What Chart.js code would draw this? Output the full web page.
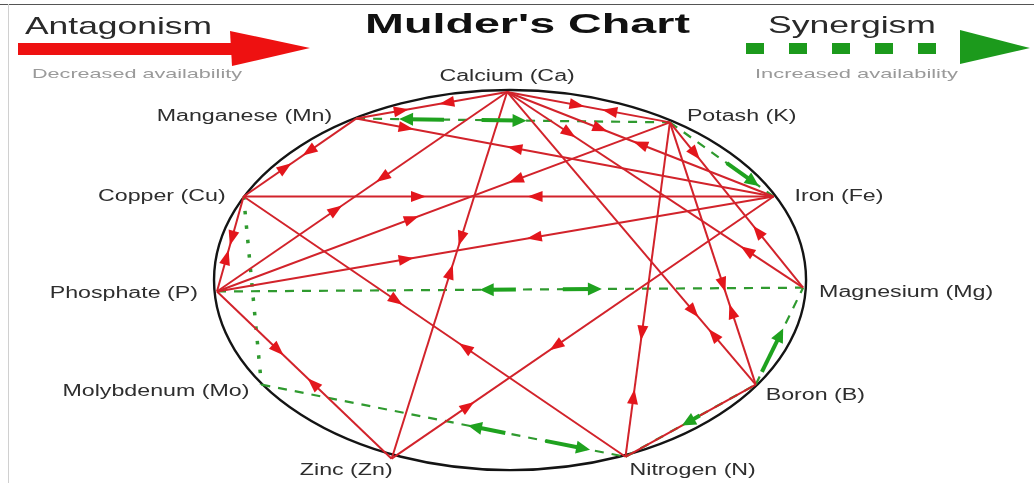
<!DOCTYPE html>
<html><head><meta charset="utf-8">
<script src="https://cdn.jsdelivr.net/npm/chart.js@4/dist/chart.umd.min.js"></script>
<style>
html,body{margin:0;padding:0;background:#fff;}
#wrap{position:relative;width:1034px;height:483px;overflow:hidden;background:#fff;}
#c{position:absolute;left:0;top:0;width:1034px;height:483px;}
#hdr{position:absolute;left:0;top:0;width:1034px;height:483px;}
.t{position:absolute;white-space:nowrap;transform-origin:0 0;line-height:1;font-family:"Liberation Sans",Arial,sans-serif;}
</style></head>
<body><div id="wrap">
<canvas id="c" width="1034" height="483"></canvas>
<svg id="hdr" width="1034" height="483">
  <line x1="0" y1="4.5" x2="1034" y2="4.5" stroke="#555" stroke-width="1"/>
  <line x1="8.5" y1="4" x2="8.5" y2="483" stroke="#d0d0d0" stroke-width="1"/>
  <rect x="18" y="43" width="215" height="12" fill="#ee1111"/>
  <polygon points="230,31 310,48 232,66" fill="#ee1111"/>
  <g fill="#1c9a1c">
    <rect x="746" y="43" width="18" height="11"/>
    <rect x="789" y="43" width="18" height="11"/>
    <rect x="832" y="43" width="18" height="11"/>
    <rect x="875" y="43" width="18" height="11"/>
    <rect x="918" y="43" width="18" height="11"/>
    <polygon points="960,30 1030,48 960,64"/>
  </g>
</svg>
</div>
<script>
// ---------- data ----------
const elements = ['Calcium (Ca)','Potash (K)','Iron (Fe)','Magnesium (Mg)','Boron (B)','Nitrogen (N)','Zinc (Zn)','Molybdenum (Mo)','Phosphate (P)','Copper (Cu)','Manganese (Mn)'];
const nodeX = [-1, 54, 89, 99, 83, 39, -40, -84, -99, -90, -52];
const nodeY = [99, 83, 44, -4, -55, -93, -94, -55, -6, 44, 85];
// antagonism (red) links: index pairs
const antagonismFrom = [0, 0, 0, 0, 0, 0, 0, 10, 10, 9, 9, 9, 8, 8, 8, 2, 1, 1, 1, 5];
const antagonismTo   = [10, 1, 2, 3, 4, 6, 8, 2, 9, 2, 5, 8, 1, 2, 6, 6, 5, 4, 3, 4];
// synergism (green) links
const synergismFrom = [10, 1, 8, 7, 5, 4];
const synergismTo   = [1, 2, 3, 5, 4, 3];
const dottedFrom = [9];
const dottedTo   = [7];

// ---------- styles ----------
const RED = '#d2232b';
const RED_HEAD = '#e3161c';
const GREEN = '#2f9a2f';
const GREEN_ARROW = '#1fa21f';
// arrowheads on red links: [position along link, direction (+1 toward "to")]
const redArrows = [
  [[0.4,1],[0.7,-1]], [[0.43,1],[0.63,-1]], [[0.35,1],[0.5,-1]], [[0.21,1],[0.81,-1]],
  [[0.75,1],[0.83,-1]], [[0.4,1],[0.49,-1]], [[0.43,1],[0.59,-1]], [[0.12,1],[0.38,-1]],
  [[0.42,1],[0.63,-1]], [[0.33,1],[0.55,-1]], [[0.4,1],[0.58,-1]], [[0.44,1],[0.64,-1]],
  [[0.43,1],[0.66,-1]], [[0.34,1],[0.57,-1]], [[0.35,1],[0.55,-1]], [[0.57,1],[0.8,-1]],
  [[0.63,1],[0.82,-1]], [[0.62,1],[0.72,-1]], [[0.19,1],[0.66,-1]], []
];
// green arrows on synergism links: [start t, end t (head)]
const greenArrows = [
  [[0.28,0.14],[0.4,0.54]], [[0.55,0.85]], [[0.51,0.45],[0.59,0.655]],
  [[0.67,0.57],[0.78,0.9]], [[0.57,0.44]], [[0.13,0.57]]
];
// label placement: [align, dx, dy]
const labelPlace = [
  ['center',0,-15],['left',17,-6],['left',21,0],['left',16,5],['left',10,11],['left',4,14],
  ['right',1,12],['right',-12,7],['right',-19,2],['right',-18,0],['right',-24,-2]
];
const LABEL_STRETCH = 1.45;

// ---------- chart ----------
const datasets = [];
antagonismFrom.forEach((a,i)=>{
  const b = antagonismTo[i];
  datasets.push({data:[{x:nodeX[a],y:nodeY[a]},{x:nodeX[b],y:nodeY[b]}], showLine:true,
    borderColor:RED, borderWidth:2, pointRadius:0, clip:false});
});
synergismFrom.forEach((a,i)=>{
  const b = synergismTo[i];
  datasets.push({data:[{x:nodeX[a],y:nodeY[a]},{x:nodeX[b],y:nodeY[b]}], showLine:true,
    borderColor:GREEN, borderWidth:2.2, borderDash:[9,8], pointRadius:0, clip:false});
});
dottedFrom.forEach((a,i)=>{
  const b = dottedTo[i];
  datasets.push({data:[{x:nodeX[a],y:nodeY[a]},{x:nodeX[b],y:nodeY[b]}], showLine:true,
    borderColor:GREEN, borderWidth:3.5, borderDash:[3.5,11], pointRadius:0, clip:false});
});

function P(chart,i){ return {x:chart.scales.x.getPixelForValue(nodeX[i]), y:chart.scales.y.getPixelForValue(nodeY[i])}; }
function lerp(p,q,t){ return {x:p.x+(q.x-p.x)*t, y:p.y+(q.y-p.y)*t}; }
function head(ctx,x,y,ang,len,hw){
  ctx.save(); ctx.translate(x,y); ctx.rotate(ang);
  ctx.beginPath(); ctx.moveTo(len/2,0); ctx.lineTo(-len/2,-hw); ctx.lineTo(-len/2,hw); ctx.closePath(); ctx.fill();
  ctx.restore();
}

const decor = {
  id:'decor',
  beforeDatasetsDraw(chart){
    const ctx = chart.ctx, xs = chart.scales.x, ys = chart.scales.y;
    const cx = xs.getPixelForValue(0), cy = ys.getPixelForValue(0);
    const rx = xs.getPixelForValue(100)-cx, ry = cy-ys.getPixelForValue(100);
    ctx.save(); ctx.strokeStyle='#141414'; ctx.lineWidth=2.4;
    ctx.beginPath(); ctx.ellipse(cx,cy,rx,ry,0,0,Math.PI*2); ctx.stroke(); ctx.restore();
  },
  afterDatasetsDraw(chart){
    const ctx = chart.ctx;
    ctx.save();
    ctx.fillStyle = RED_HEAD;
    antagonismFrom.forEach((a,i)=>{
      const p = P(chart,a), q = P(chart,antagonismTo[i]);
      const ang = Math.atan2(q.y-p.y,q.x-p.x);
      redArrows[i].forEach(([t,d])=>{ const m = lerp(p,q,t); head(ctx,m.x,m.y,d>0?ang:ang+Math.PI,15,5.5); });
    });
    ctx.fillStyle = GREEN_ARROW; ctx.strokeStyle = GREEN_ARROW; ctx.lineWidth = 4;
    synergismFrom.forEach((a,i)=>{
      const p = P(chart,a), q = P(chart,synergismTo[i]);
      greenArrows[i].forEach(([t0,t1])=>{
        const s = lerp(p,q,t0), e = lerp(p,q,t1);
        const ang = Math.atan2(e.y-s.y,e.x-s.x);
        const ex = e.x-Math.cos(ang)*8, ey = e.y-Math.sin(ang)*8;
        ctx.beginPath(); ctx.moveTo(s.x,s.y); ctx.lineTo(ex,ey); ctx.stroke();
        head(ctx,e.x-Math.cos(ang)*6,e.y-Math.sin(ang)*6,ang,14,6.5);
      });
    });
    ctx.restore();
  },
  afterDraw(chart){
    const ctx = chart.ctx;
    ctx.save();
    ctx.fillStyle='#2e2e2e'; ctx.font='16px "Liberation Sans", Arial, sans-serif'; ctx.textBaseline='middle';
    elements.forEach((name,i)=>{
      const p = P(chart,i); const [al,dx,dy] = labelPlace[i];
      ctx.save(); ctx.translate(p.x+dx,p.y+dy); ctx.scale(LABEL_STRETCH,1);
      ctx.textAlign = al; ctx.fillText(name,0,0); ctx.restore();
    });
    ctx.restore();
  }
};

new Chart(document.getElementById('c'), {
  type:'scatter',
  data:{datasets},
  options:{
    responsive:false, animation:false, events:[],
    layout:{padding:0, autoPadding:false},
    plugins:{legend:{display:false}, tooltip:{enabled:false}, title:{display:false}},
    scales:{
      x:{type:'linear', min:-172.3, max:177.0, display:false},
      y:{type:'linear', min:-106.8, max:147.4, display:false}
    }
  },
  plugins:[decor]
});

// ---------- header texts ----------
function addText(txt,left,top,width,size,weight,color){
  const s = document.createElement('span');
  s.className='t'; s.textContent=txt;
  s.style.left=left+'px'; s.style.top=top+'px'; s.style.fontSize=size+'px';
  s.style.fontWeight=weight; s.style.color=color;
  document.getElementById('wrap').appendChild(s);
  const w = s.getBoundingClientRect().width;
  s.style.transform='scaleX('+(width/w)+')';
}
addText('Antagonism',25,14,187,24,'normal','#2a2a2a');
addText('Decreased availability',32,67,210,13,'normal','#9a9a9a');
addText("Mulder's Chart",365,10,325,28,'bold','#111');
addText('Synergism',768,13,168,24,'normal','#2a2a2a');
addText('Increased availability',755,67,203,13,'normal','#9a9a9a');
</script>
</body></html>
